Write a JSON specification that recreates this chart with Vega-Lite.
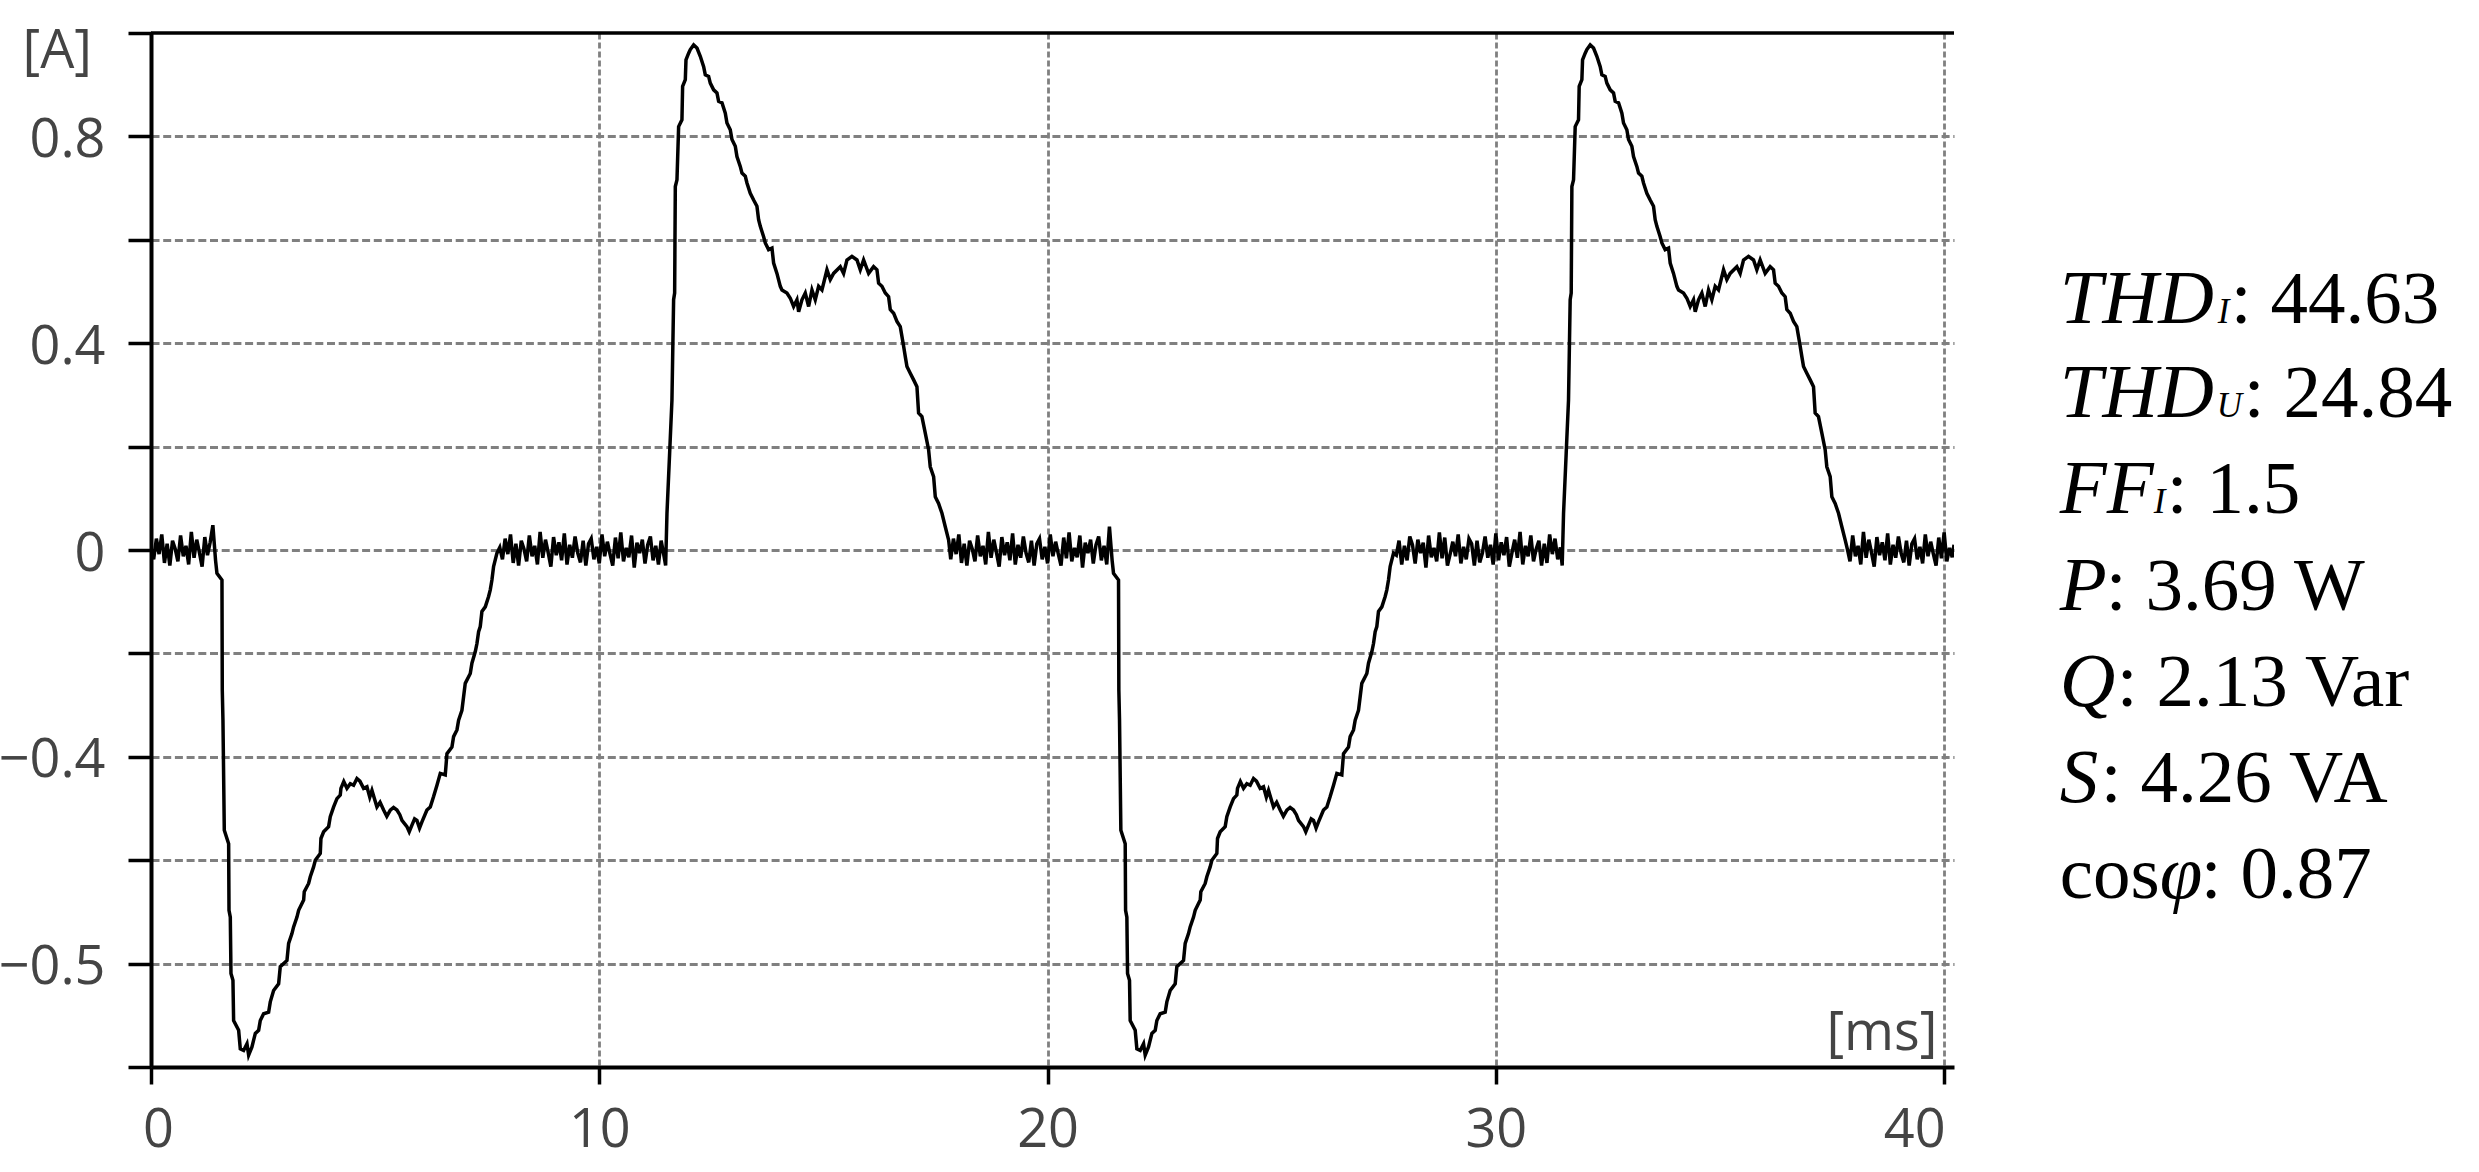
{
"$schema":"https://vega.github.io/schema/vega-lite/v6.json",
"width":1803,"height":1034,
"autosize":{"type":"none"},
"padding":{"left":151,"top":33,"right":525,"bottom":105},
"background":"#ffffff",
"config":{"view":{"stroke":null},
 "axis":{"labelFont":"Open Sans","labelFontSize":54,"labelColor":"#444444","titleFont":"Open Sans","titleFontSize":54,"titleFontWeight":"normal","titleColor":"#444444","domainColor":"#000000","domainWidth":4,"tickColor":"#000000","tickWidth":3.5,"gridColor":"#808080","gridWidth":2.8}},
"datasets":{"one":[{"k":1}],"wave":[
{"t":0,"i":0.005},{"t":0.06,"i":-0.018},{"t":0.12,"i":0.022},{"t":0.18,"i":-0.008},{"t":0.24,"i":0.03},{"t":0.3,"i":-0.025},{"t":0.36,"i":0.012},{"t":0.42,"i":-0.03},{"t":0.48,"i":0.018},{"t":0.54,"i":0.002},{"t":0.6,"i":-0.022},{"t":0.66,"i":0.028},{"t":0.72,"i":-0.012},{"t":0.78,"i":0.008},{"t":0.84,"i":-0.028},{"t":0.9,"i":0.035},{"t":0.96,"i":-0.015},{"t":1.02,"i":0.02},{"t":1.08,"i":-0.005},{"t":1.14,"i":-0.032},{"t":1.2,"i":0.025},{"t":1.26,"i":-0.01},{"t":1.32,"i":0.015},{"t":1.38,"i":0.048},{"t":1.44,"i":-0.02},
{"t":1.471,"i":-0.045},{"t":1.583,"i":-0.058},{"t":1.59,"i":-0.271},{"t":1.605,"i":-0.329},{"t":1.635,"i":-0.542},{"t":1.732,"i":-0.568},{"t":1.74,"i":-0.697},{"t":1.769,"i":-0.71},{"t":1.784,"i":-0.819},{"t":1.828,"i":-0.832},{"t":1.843,"i":-0.91},{"t":1.955,"i":-0.929},{"t":1.992,"i":-0.965},{"t":2.066,"i":-0.968},{"t":2.141,"i":-0.955},{"t":2.178,"i":-0.977},{"t":2.252,"i":-0.961},{"t":2.327,"i":-0.935},{"t":2.401,"i":-0.929},{"t":2.438,"i":-0.91},{"t":2.512,"i":-0.897},{"t":2.624,"i":-0.894},{"t":2.661,"i":-0.874},{"t":2.735,"i":-0.852},{"t":2.847,"i":-0.839},{"t":2.884,"i":-0.806},{"t":3.033,"i":-0.794},{"t":3.07,"i":-0.761},{"t":3.144,"i":-0.742},{"t":3.181,"i":-0.729},{"t":3.256,"i":-0.71},{"t":3.293,"i":-0.697},{"t":3.405,"i":-0.677},{"t":3.419,"i":-0.661},{"t":3.516,"i":-0.645},{"t":3.553,"i":-0.632},{"t":3.627,"i":-0.613},{"t":3.665,"i":-0.6},{"t":3.776,"i":-0.587},{"t":3.791,"i":-0.558},{"t":3.851,"i":-0.545},{"t":3.962,"i":-0.535},{"t":3.999,"i":-0.516},{"t":4.074,"i":-0.497},{"t":4.148,"i":-0.481},{"t":4.222,"i":-0.474},{"t":4.237,"i":-0.461},{"t":4.3,"i":-0.448},{"t":4.371,"i":-0.461},{"t":4.446,"i":-0.452},{"t":4.52,"i":-0.455},{"t":4.594,"i":-0.442},{"t":4.66,"i":-0.447},{"t":4.743,"i":-0.461},{"t":4.817,"i":-0.458},{"t":4.88,"i":-0.478},{"t":4.929,"i":-0.465},{"t":5.04,"i":-0.497},{"t":5.11,"i":-0.488},{"t":5.189,"i":-0.503},{"t":5.26,"i":-0.515},{"t":5.338,"i":-0.503},{"t":5.41,"i":-0.498},{"t":5.486,"i":-0.503},{"t":5.55,"i":-0.512},{"t":5.598,"i":-0.523},{"t":5.709,"i":-0.535},{"t":5.76,"i":-0.545},{"t":5.821,"i":-0.532},{"t":5.88,"i":-0.52},{"t":5.932,"i":-0.523},{"t":5.99,"i":-0.538},{"t":6.044,"i":-0.526},{"t":6.155,"i":-0.503},{"t":6.23,"i":-0.497},{"t":6.304,"i":-0.477},{"t":6.379,"i":-0.455},{"t":6.453,"i":-0.432},{"t":6.564,"i":-0.435},{"t":6.602,"i":-0.394},{"t":6.713,"i":-0.381},{"t":6.75,"i":-0.361},{"t":6.825,"i":-0.348},{"t":6.862,"i":-0.329},{"t":6.936,"i":-0.31},{"t":6.973,"i":-0.284},{"t":7.01,"i":-0.258},{"t":7.122,"i":-0.239},{"t":7.159,"i":-0.219},{"t":7.233,"i":-0.197},{"t":7.271,"i":-0.181},{"t":7.308,"i":-0.158},{"t":7.345,"i":-0.148},{"t":7.382,"i":-0.119},{"t":7.457,"i":-0.11},{"t":7.531,"i":-0.09},{"t":7.568,"i":-0.077},{"t":7.605,"i":-0.058},{"t":7.642,"i":-0.032},{"t":7.717,"i":-0.006},
{"t":7.78,"i":0.005},{"t":7.84,"i":-0.018},{"t":7.9,"i":0.022},{"t":7.96,"i":-0.008},{"t":8.02,"i":0.03},{"t":8.08,"i":-0.025},{"t":8.14,"i":0.012},{"t":8.2,"i":-0.03},{"t":8.26,"i":0.018},{"t":8.32,"i":0.002},{"t":8.38,"i":-0.022},{"t":8.44,"i":0.028},{"t":8.5,"i":-0.012},{"t":8.56,"i":0.008},{"t":8.62,"i":-0.028},{"t":8.68,"i":0.035},{"t":8.74,"i":-0.015},{"t":8.8,"i":0.02},{"t":8.86,"i":-0.005},{"t":8.92,"i":-0.032},{"t":8.98,"i":0.025},{"t":9.04,"i":-0.01},{"t":9.1,"i":0.015},{"t":9.16,"i":-0.02},{"t":9.22,"i":0.032},{"t":9.28,"i":-0.028},{"t":9.34,"i":0.01},{"t":9.4,"i":-0.015},{"t":9.46,"i":0.026},{"t":9.52,"i":-0.006},{"t":9.58,"i":-0.024},{"t":9.64,"i":0.018},{"t":9.7,"i":-0.03},{"t":9.76,"i":0.012},{"t":9.82,"i":0.022},{"t":9.88,"i":-0.018},{"t":9.94,"i":0.006},{"t":10,"i":-0.026},{"t":10.06,"i":0.03},{"t":10.12,"i":-0.012},{"t":10.18,"i":0.016},{"t":10.24,"i":-0.008},{"t":10.3,"i":-0.03},{"t":10.36,"i":0.024},{"t":10.42,"i":-0.016},{"t":10.48,"i":0.034},{"t":10.54,"i":-0.022},{"t":10.6,"i":0.004},{"t":10.66,"i":-0.014},{"t":10.72,"i":0.028},{"t":10.78,"i":-0.034},{"t":10.84,"i":0.014},{"t":10.9,"i":-0.006},{"t":10.96,"i":0.02},{"t":11.02,"i":-0.026},{"t":11.08,"i":0.01},{"t":11.14,"i":0.026},{"t":11.2,"i":-0.02},{"t":11.26,"i":0.008},{"t":11.32,"i":-0.028},{"t":11.38,"i":0.018},{"t":11.44,"i":-0.01},
{"t":11.48,"i":-0.03},{"t":11.51,"i":0.071},{"t":11.569,"i":0.187},{"t":11.621,"i":0.29},{"t":11.658,"i":0.484},{"t":11.681,"i":0.497},{"t":11.696,"i":0.703},{"t":11.733,"i":0.716},{"t":11.77,"i":0.819},{"t":11.844,"i":0.832},{"t":11.859,"i":0.897},{"t":11.919,"i":0.91},{"t":11.934,"i":0.948},{"t":11.993,"i":0.961},{"t":12.03,"i":0.968},{"t":12.105,"i":0.977},{"t":12.179,"i":0.971},{"t":12.253,"i":0.955},{"t":12.328,"i":0.935},{"t":12.365,"i":0.919},{"t":12.439,"i":0.916},{"t":12.476,"i":0.903},{"t":12.551,"i":0.89},{"t":12.625,"i":0.884},{"t":12.662,"i":0.868},{"t":12.737,"i":0.865},{"t":12.811,"i":0.845},{"t":12.848,"i":0.826},{"t":12.922,"i":0.813},{"t":12.96,"i":0.794},{"t":13.034,"i":0.781},{"t":13.071,"i":0.761},{"t":13.145,"i":0.742},{"t":13.183,"i":0.729},{"t":13.257,"i":0.723},{"t":13.294,"i":0.71},{"t":13.368,"i":0.69},{"t":13.443,"i":0.677},{"t":13.517,"i":0.665},{"t":13.554,"i":0.639},{"t":13.592,"i":0.626},{"t":13.666,"i":0.606},{"t":13.703,"i":0.594},{"t":13.777,"i":0.581},{"t":13.852,"i":0.584},{"t":13.889,"i":0.555},{"t":13.963,"i":0.535},{"t":14.038,"i":0.51},{"t":14.075,"i":0.503},{"t":14.186,"i":0.497},{"t":14.261,"i":0.487},{"t":14.335,"i":0.471},{"t":14.409,"i":0.484},{"t":14.447,"i":0.461},{"t":14.521,"i":0.484},{"t":14.595,"i":0.497},{"t":14.67,"i":0.471},{"t":14.744,"i":0.503},{"t":14.818,"i":0.484},{"t":14.893,"i":0.51},{"t":14.967,"i":0.503},{"t":15.042,"i":0.529},{"t":15.079,"i":0.542},{"t":15.153,"i":0.523},{"t":15.227,"i":0.535},{"t":15.376,"i":0.548},{"t":15.45,"i":0.535},{"t":15.525,"i":0.561},{"t":15.636,"i":0.568},{"t":15.748,"i":0.561},{"t":15.822,"i":0.542},{"t":15.896,"i":0.561},{"t":16.008,"i":0.535},{"t":16.119,"i":0.548},{"t":16.194,"i":0.542},{"t":16.231,"i":0.516},{"t":16.305,"i":0.51},{"t":16.38,"i":0.497},{"t":16.454,"i":0.49},{"t":16.491,"i":0.465},{"t":16.566,"i":0.458},{"t":16.64,"i":0.442},{"t":16.714,"i":0.432},{"t":16.789,"i":0.394},{"t":16.826,"i":0.374},{"t":16.863,"i":0.355},{"t":16.937,"i":0.342},{"t":17.012,"i":0.329},{"t":17.086,"i":0.316},{"t":17.123,"i":0.265},{"t":17.197,"i":0.258},{"t":17.272,"i":0.226},{"t":17.346,"i":0.194},{"t":17.383,"i":0.161},{"t":17.458,"i":0.142},{"t":17.495,"i":0.103},{"t":17.569,"i":0.09},{"t":17.644,"i":0.071},{"t":17.718,"i":0.045},{"t":17.793,"i":0.019},
{"t":17.84,"i":-0.018},{"t":17.9,"i":0.022},{"t":17.96,"i":-0.008},{"t":18.02,"i":0.03},{"t":18.08,"i":-0.025},{"t":18.14,"i":0.012},{"t":18.2,"i":-0.03},{"t":18.26,"i":0.018},{"t":18.32,"i":0.002},{"t":18.38,"i":-0.022},{"t":18.44,"i":0.028},{"t":18.5,"i":-0.012},{"t":18.56,"i":0.008},{"t":18.62,"i":-0.028},{"t":18.68,"i":0.035},{"t":18.74,"i":-0.015},{"t":18.8,"i":0.02},{"t":18.86,"i":-0.005},{"t":18.92,"i":-0.032},{"t":18.98,"i":0.025},{"t":19.04,"i":-0.01},{"t":19.1,"i":0.015},{"t":19.16,"i":-0.02},{"t":19.22,"i":0.032},{"t":19.28,"i":-0.028},{"t":19.34,"i":0.01},{"t":19.4,"i":-0.015},{"t":19.46,"i":0.026},{"t":19.52,"i":-0.006},{"t":19.58,"i":-0.024},{"t":19.64,"i":0.018},{"t":19.7,"i":-0.03},{"t":19.76,"i":0.012},{"t":19.82,"i":0.022},{"t":19.88,"i":-0.018},{"t":19.94,"i":0.006},{"t":20,"i":-0.026},{"t":20.06,"i":0.03},{"t":20.12,"i":-0.012},{"t":20.18,"i":0.016},{"t":20.24,"i":-0.008},{"t":20.3,"i":-0.03},{"t":20.36,"i":0.024},{"t":20.42,"i":-0.016},{"t":20.48,"i":0.034},{"t":20.54,"i":-0.022},{"t":20.6,"i":0.004},{"t":20.66,"i":-0.014},{"t":20.72,"i":0.028},{"t":20.78,"i":-0.034},{"t":20.84,"i":0.014},{"t":20.9,"i":-0.006},{"t":20.96,"i":0.02},{"t":21.02,"i":-0.026},{"t":21.08,"i":0.01},{"t":21.14,"i":0.026},{"t":21.2,"i":-0.02},{"t":21.26,"i":0.008},{"t":21.32,"i":-0.028},{"t":21.38,"i":0.045},{"t":21.44,"i":-0.02},
{"t":21.471,"i":-0.045},{"t":21.583,"i":-0.058},{"t":21.59,"i":-0.271},{"t":21.605,"i":-0.329},{"t":21.635,"i":-0.542},{"t":21.732,"i":-0.568},{"t":21.74,"i":-0.697},{"t":21.769,"i":-0.71},{"t":21.784,"i":-0.819},{"t":21.828,"i":-0.832},{"t":21.843,"i":-0.91},{"t":21.955,"i":-0.929},{"t":21.992,"i":-0.965},{"t":22.066,"i":-0.968},{"t":22.141,"i":-0.955},{"t":22.178,"i":-0.977},{"t":22.252,"i":-0.961},{"t":22.327,"i":-0.935},{"t":22.401,"i":-0.929},{"t":22.438,"i":-0.91},{"t":22.512,"i":-0.897},{"t":22.624,"i":-0.894},{"t":22.661,"i":-0.874},{"t":22.735,"i":-0.852},{"t":22.847,"i":-0.839},{"t":22.884,"i":-0.806},{"t":23.033,"i":-0.794},{"t":23.07,"i":-0.761},{"t":23.144,"i":-0.742},{"t":23.181,"i":-0.729},{"t":23.256,"i":-0.71},{"t":23.293,"i":-0.697},{"t":23.405,"i":-0.677},{"t":23.419,"i":-0.661},{"t":23.516,"i":-0.645},{"t":23.553,"i":-0.632},{"t":23.627,"i":-0.613},{"t":23.665,"i":-0.6},{"t":23.776,"i":-0.587},{"t":23.791,"i":-0.558},{"t":23.851,"i":-0.545},{"t":23.962,"i":-0.535},{"t":23.999,"i":-0.516},{"t":24.074,"i":-0.497},{"t":24.148,"i":-0.481},{"t":24.222,"i":-0.474},{"t":24.237,"i":-0.461},{"t":24.3,"i":-0.448},{"t":24.371,"i":-0.461},{"t":24.446,"i":-0.452},{"t":24.52,"i":-0.455},{"t":24.594,"i":-0.442},{"t":24.66,"i":-0.447},{"t":24.743,"i":-0.461},{"t":24.817,"i":-0.458},{"t":24.88,"i":-0.478},{"t":24.929,"i":-0.465},{"t":25.04,"i":-0.497},{"t":25.11,"i":-0.488},{"t":25.189,"i":-0.503},{"t":25.26,"i":-0.515},{"t":25.338,"i":-0.503},{"t":25.41,"i":-0.498},{"t":25.486,"i":-0.503},{"t":25.55,"i":-0.512},{"t":25.598,"i":-0.523},{"t":25.709,"i":-0.535},{"t":25.76,"i":-0.545},{"t":25.821,"i":-0.532},{"t":25.88,"i":-0.52},{"t":25.932,"i":-0.523},{"t":25.99,"i":-0.538},{"t":26.044,"i":-0.526},{"t":26.155,"i":-0.503},{"t":26.23,"i":-0.497},{"t":26.304,"i":-0.477},{"t":26.379,"i":-0.455},{"t":26.453,"i":-0.432},{"t":26.564,"i":-0.435},{"t":26.602,"i":-0.394},{"t":26.713,"i":-0.381},{"t":26.75,"i":-0.361},{"t":26.825,"i":-0.348},{"t":26.862,"i":-0.329},{"t":26.936,"i":-0.31},{"t":26.973,"i":-0.284},{"t":27.01,"i":-0.258},{"t":27.122,"i":-0.239},{"t":27.159,"i":-0.219},{"t":27.233,"i":-0.197},{"t":27.271,"i":-0.181},{"t":27.308,"i":-0.158},{"t":27.345,"i":-0.148},{"t":27.382,"i":-0.119},{"t":27.457,"i":-0.11},{"t":27.531,"i":-0.09},{"t":27.568,"i":-0.077},{"t":27.605,"i":-0.058},{"t":27.642,"i":-0.032},{"t":27.717,"i":-0.006},
{"t":27.78,"i":-0.01},{"t":27.84,"i":0.018},{"t":27.9,"i":-0.028},{"t":27.96,"i":0.008},{"t":28.02,"i":-0.02},{"t":28.08,"i":0.026},{"t":28.14,"i":0.01},{"t":28.2,"i":-0.026},{"t":28.26,"i":0.02},{"t":28.32,"i":-0.006},{"t":28.38,"i":0.014},{"t":28.44,"i":-0.034},{"t":28.5,"i":0.028},{"t":28.56,"i":-0.014},{"t":28.62,"i":0.004},{"t":28.68,"i":-0.022},{"t":28.74,"i":0.034},{"t":28.8,"i":-0.016},{"t":28.86,"i":0.024},{"t":28.92,"i":-0.03},{"t":28.98,"i":-0.008},{"t":29.04,"i":0.016},{"t":29.1,"i":-0.012},{"t":29.16,"i":0.03},{"t":29.22,"i":-0.026},{"t":29.28,"i":0.006},{"t":29.34,"i":-0.018},{"t":29.4,"i":0.022},{"t":29.46,"i":0.012},{"t":29.52,"i":-0.03},{"t":29.58,"i":0.018},{"t":29.64,"i":-0.024},{"t":29.7,"i":-0.006},{"t":29.76,"i":0.026},{"t":29.82,"i":-0.015},{"t":29.88,"i":0.01},{"t":29.94,"i":-0.028},{"t":30,"i":0.032},{"t":30.06,"i":-0.02},{"t":30.12,"i":0.015},{"t":30.18,"i":-0.01},{"t":30.24,"i":0.025},{"t":30.3,"i":-0.032},{"t":30.36,"i":-0.005},{"t":30.42,"i":0.02},{"t":30.48,"i":-0.015},{"t":30.54,"i":0.035},{"t":30.6,"i":-0.028},{"t":30.66,"i":0.008},{"t":30.72,"i":-0.012},{"t":30.78,"i":0.028},{"t":30.84,"i":-0.022},{"t":30.9,"i":0.002},{"t":30.96,"i":0.018},{"t":31.02,"i":-0.03},{"t":31.08,"i":0.012},{"t":31.14,"i":-0.025},{"t":31.2,"i":0.03},{"t":31.26,"i":-0.008},{"t":31.32,"i":0.022},{"t":31.38,"i":-0.018},{"t":31.44,"i":0.005},
{"t":31.48,"i":-0.03},{"t":31.51,"i":0.071},{"t":31.569,"i":0.187},{"t":31.621,"i":0.29},{"t":31.658,"i":0.484},{"t":31.681,"i":0.497},{"t":31.696,"i":0.703},{"t":31.733,"i":0.716},{"t":31.77,"i":0.819},{"t":31.844,"i":0.832},{"t":31.859,"i":0.897},{"t":31.919,"i":0.91},{"t":31.934,"i":0.948},{"t":31.993,"i":0.961},{"t":32.03,"i":0.968},{"t":32.105,"i":0.977},{"t":32.179,"i":0.971},{"t":32.253,"i":0.955},{"t":32.328,"i":0.935},{"t":32.365,"i":0.919},{"t":32.439,"i":0.916},{"t":32.476,"i":0.903},{"t":32.551,"i":0.89},{"t":32.625,"i":0.884},{"t":32.662,"i":0.868},{"t":32.737,"i":0.865},{"t":32.811,"i":0.845},{"t":32.848,"i":0.826},{"t":32.922,"i":0.813},{"t":32.96,"i":0.794},{"t":33.034,"i":0.781},{"t":33.071,"i":0.761},{"t":33.145,"i":0.742},{"t":33.183,"i":0.729},{"t":33.257,"i":0.723},{"t":33.294,"i":0.71},{"t":33.368,"i":0.69},{"t":33.443,"i":0.677},{"t":33.517,"i":0.665},{"t":33.554,"i":0.639},{"t":33.592,"i":0.626},{"t":33.666,"i":0.606},{"t":33.703,"i":0.594},{"t":33.777,"i":0.581},{"t":33.852,"i":0.584},{"t":33.889,"i":0.555},{"t":33.963,"i":0.535},{"t":34.038,"i":0.51},{"t":34.075,"i":0.503},{"t":34.186,"i":0.497},{"t":34.261,"i":0.487},{"t":34.335,"i":0.471},{"t":34.409,"i":0.484},{"t":34.447,"i":0.461},{"t":34.521,"i":0.484},{"t":34.595,"i":0.497},{"t":34.67,"i":0.471},{"t":34.744,"i":0.503},{"t":34.818,"i":0.484},{"t":34.893,"i":0.51},{"t":34.967,"i":0.503},{"t":35.042,"i":0.529},{"t":35.079,"i":0.542},{"t":35.153,"i":0.523},{"t":35.227,"i":0.535},{"t":35.376,"i":0.548},{"t":35.45,"i":0.535},{"t":35.525,"i":0.561},{"t":35.636,"i":0.568},{"t":35.748,"i":0.561},{"t":35.822,"i":0.542},{"t":35.896,"i":0.561},{"t":36.008,"i":0.535},{"t":36.119,"i":0.548},{"t":36.194,"i":0.542},{"t":36.231,"i":0.516},{"t":36.305,"i":0.51},{"t":36.38,"i":0.497},{"t":36.454,"i":0.49},{"t":36.491,"i":0.465},{"t":36.566,"i":0.458},{"t":36.64,"i":0.442},{"t":36.714,"i":0.432},{"t":36.789,"i":0.394},{"t":36.826,"i":0.374},{"t":36.863,"i":0.355},{"t":36.937,"i":0.342},{"t":37.012,"i":0.329},{"t":37.086,"i":0.316},{"t":37.123,"i":0.265},{"t":37.197,"i":0.258},{"t":37.272,"i":0.226},{"t":37.346,"i":0.194},{"t":37.383,"i":0.161},{"t":37.458,"i":0.142},{"t":37.495,"i":0.103},{"t":37.569,"i":0.09},{"t":37.644,"i":0.071},{"t":37.718,"i":0.045},{"t":37.793,"i":0.019},
{"t":37.84,"i":0.002},{"t":37.9,"i":-0.022},{"t":37.96,"i":0.028},{"t":38.02,"i":-0.012},{"t":38.08,"i":0.008},{"t":38.14,"i":-0.028},{"t":38.2,"i":0.035},{"t":38.26,"i":-0.015},{"t":38.32,"i":0.02},{"t":38.38,"i":-0.005},{"t":38.44,"i":-0.032},{"t":38.5,"i":0.025},{"t":38.56,"i":-0.01},{"t":38.62,"i":0.015},{"t":38.68,"i":-0.02},{"t":38.74,"i":0.032},{"t":38.8,"i":-0.028},{"t":38.86,"i":0.01},{"t":38.92,"i":-0.015},{"t":38.98,"i":0.026},{"t":39.04,"i":-0.006},{"t":39.1,"i":-0.024},{"t":39.16,"i":0.018},{"t":39.22,"i":-0.03},{"t":39.28,"i":0.012},{"t":39.34,"i":0.022},{"t":39.4,"i":-0.018},{"t":39.46,"i":0.006},{"t":39.52,"i":-0.026},{"t":39.58,"i":0.03},{"t":39.64,"i":-0.012},{"t":39.7,"i":0.016},{"t":39.76,"i":-0.008},{"t":39.82,"i":-0.03},{"t":39.88,"i":0.024},{"t":39.94,"i":-0.016},{"t":40,"i":0.034},{"t":40.06,"i":-0.022},{"t":40.12,"i":0.004},{"t":40.18,"i":-0.014},{"t":40.22,"i":0.01}
]},
"layer":[
 {"data":{"name":"wave"},
  "mark":{"type":"line","color":"#000000","strokeWidth":3.5,"clip":true},
  "encoding":{
   "x":{"field":"t","type":"quantitative","scale":{"domain":[0,40.22],"nice":false,"zero":false},
    "axis":{"values":[0,10,20,30,40],"title":"[ms]","titleX":1786,"titleY":-18,"titleAlign":"right","titleBaseline":"alphabetic","tickSize":17,"labelPadding":19,"labelFlush":false,
     "labelOffset":{"condition":[{"test":"datum.value === 0","value":7},{"test":"datum.value === 40","value":-30}],"value":0},
     "gridDash":[6,3],"gridOpacity":{"condition":{"test":"datum.value === 0","value":0},"value":1}}},
   "y":{"field":"i","type":"quantitative","scale":{"domain":[-1,1],"nice":false,"zero":false},
    "axis":{"values":[-1,-0.8,-0.6,-0.4,-0.2,0,0.2,0.4,0.6,0.8,1],"title":"[A]","titleAngle":0,"titleX":-129,"titleY":34.5,"titleAlign":"left","titleBaseline":"alphabetic","tickSize":23,"labelPadding":23,"labelOffset":4,
     "labelExpr":"datum.value === 0.8 ? '0.8' : datum.value === 0.4 ? '0.4' : datum.value === 0 ? '0' : datum.value === -0.4 ? '−0.4' : datum.value === -0.8 ? '−0.5' : ''",
     "gridDash":[8,3.7],"gridOpacity":{"condition":{"test":"abs(datum.value) > 0.99","value":0},"value":1}}}
  }},
 {"data":{"name":"one"},"mark":{"type":"rule","color":"#000000","strokeWidth":3.5},"encoding":{"y":{"datum":1}}},
 {"data":{"name":"one"},"mark":{"type":"text","text":"THD","font":"Liberation Serif","fontSize":77,"fontStyle":"italic","align":"left","baseline":"alphabetic","color":"#000000"},"encoding":{"x":{"datum":42.58},"y":{"datum":0.4397}}},
 {"data":{"name":"one"},"mark":{"type":"text","text":"I","font":"Liberation Serif","fontSize":35,"fontStyle":"italic","align":"left","baseline":"alphabetic","color":"#000000","dx":158},"encoding":{"x":{"datum":42.58},"y":{"datum":0.4397}}},
 {"data":{"name":"one"},"mark":{"type":"text","text":": 44.63","font":"Liberation Serif","fontSize":75,"align":"left","baseline":"alphabetic","color":"#000000","dx":171},"encoding":{"x":{"datum":42.58},"y":{"datum":0.4397}}},
 {"data":{"name":"one"},"mark":{"type":"text","text":"THD","font":"Liberation Serif","fontSize":77,"fontStyle":"italic","align":"left","baseline":"alphabetic","color":"#000000"},"encoding":{"x":{"datum":42.58},"y":{"datum":0.2578}}},
 {"data":{"name":"one"},"mark":{"type":"text","text":"U","font":"Liberation Serif","fontSize":35,"fontStyle":"italic","align":"left","baseline":"alphabetic","color":"#000000","dx":157},"encoding":{"x":{"datum":42.58},"y":{"datum":0.2578}}},
 {"data":{"name":"one"},"mark":{"type":"text","text":": 24.84","font":"Liberation Serif","fontSize":75,"align":"left","baseline":"alphabetic","color":"#000000","dx":184},"encoding":{"x":{"datum":42.58},"y":{"datum":0.2578}}},
 {"data":{"name":"one"},"mark":{"type":"text","text":"FF","font":"Liberation Serif","fontSize":77,"fontStyle":"italic","align":"left","baseline":"alphabetic","color":"#000000"},"encoding":{"x":{"datum":42.58},"y":{"datum":0.071}}},
 {"data":{"name":"one"},"mark":{"type":"text","text":"I","font":"Liberation Serif","fontSize":35,"fontStyle":"italic","align":"left","baseline":"alphabetic","color":"#000000","dx":94},"encoding":{"x":{"datum":42.58},"y":{"datum":0.071}}},
 {"data":{"name":"one"},"mark":{"type":"text","text":": 1.5","font":"Liberation Serif","fontSize":75,"align":"left","baseline":"alphabetic","color":"#000000","dx":107},"encoding":{"x":{"datum":42.58},"y":{"datum":0.071}}},
 {"data":{"name":"one"},"mark":{"type":"text","text":"P","font":"Liberation Serif","fontSize":77,"fontStyle":"italic","align":"left","baseline":"alphabetic","color":"#000000"},"encoding":{"x":{"datum":42.58},"y":{"datum":-0.1161}}},
 {"data":{"name":"one"},"mark":{"type":"text","text":": 3.69 W","font":"Liberation Serif","fontSize":75,"align":"left","baseline":"alphabetic","color":"#000000","dx":46},"encoding":{"x":{"datum":42.58},"y":{"datum":-0.1161}}},
 {"data":{"name":"one"},"mark":{"type":"text","text":"Q","font":"Liberation Serif","fontSize":77,"fontStyle":"italic","align":"left","baseline":"alphabetic","color":"#000000"},"encoding":{"x":{"datum":42.58},"y":{"datum":-0.3017}}},
 {"data":{"name":"one"},"mark":{"type":"text","text":": 2.13 Var","font":"Liberation Serif","fontSize":75,"align":"left","baseline":"alphabetic","color":"#000000","dx":57},"encoding":{"x":{"datum":42.58},"y":{"datum":-0.3017}}},
 {"data":{"name":"one"},"mark":{"type":"text","text":"S","font":"Liberation Serif","fontSize":77,"fontStyle":"italic","align":"left","baseline":"alphabetic","color":"#000000"},"encoding":{"x":{"datum":42.58},"y":{"datum":-0.4874}}},
 {"data":{"name":"one"},"mark":{"type":"text","text":": 4.26 VA","font":"Liberation Serif","fontSize":75,"align":"left","baseline":"alphabetic","color":"#000000","dx":41},"encoding":{"x":{"datum":42.58},"y":{"datum":-0.4874}}},
 {"data":{"name":"one"},"mark":{"type":"text","text":"cos","font":"Liberation Serif","fontSize":75,"align":"left","baseline":"alphabetic","color":"#000000"},"encoding":{"x":{"datum":42.58},"y":{"datum":-0.6731}}},
 {"data":{"name":"one"},"mark":{"type":"text","text":"φ","font":"Liberation Serif","fontSize":77,"fontStyle":"italic","align":"left","baseline":"alphabetic","color":"#000000","dx":100},"encoding":{"x":{"datum":42.58},"y":{"datum":-0.6731}}},
 {"data":{"name":"one"},"mark":{"type":"text","text":": 0.87","font":"Liberation Serif","fontSize":75,"align":"left","baseline":"alphabetic","color":"#000000","dx":141},"encoding":{"x":{"datum":42.58},"y":{"datum":-0.6731}}}
]
}
